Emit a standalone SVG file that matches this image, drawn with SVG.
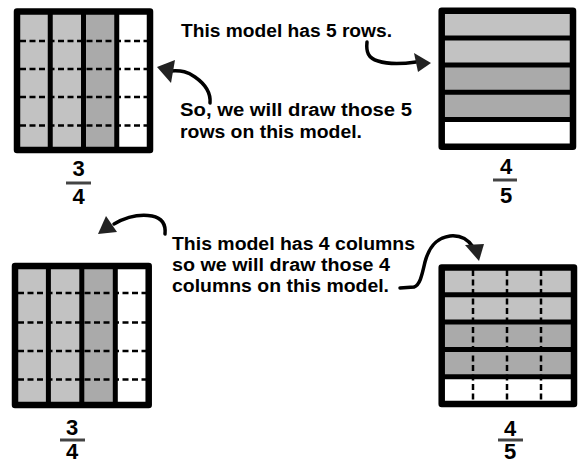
<svg xmlns="http://www.w3.org/2000/svg" width="579" height="463" viewBox="0 0 579 463">
<style>
.bg{fill:#ffffff}
.light{fill:#c2c2c2}
.dark{fill:#aaaaaa}
.white{fill:#ffffff}
.frame{fill:none;stroke:#000;stroke-width:6.5;stroke-linejoin:round}
.div{stroke:#000;stroke-width:5}
.dash{stroke:#000;stroke-width:2.5;stroke-dasharray:6 3.5}
.txt{font-family:"Liberation Sans",Arial,sans-serif;font-weight:bold;font-size:18px;fill:#000}
.num{font-family:"Liberation Sans",Arial,sans-serif;font-weight:bold;font-size:22px;fill:#000;text-anchor:middle}
.bar{stroke:#444;stroke-width:3}
.curve{fill:none;stroke:#000;stroke-width:3.5;stroke-linecap:round}
.head{fill:#222}
</style>
<rect class="bg" x="0" y="0" width="579" height="463"/>

<g id="model-top-left">
<rect class="light" x="17" y="11.5" width="66.5" height="138.5"/>
<rect class="dark" x="83.5" y="11.5" width="33.25" height="138.5"/>
<rect class="white" x="116.75" y="11.5" width="33.25" height="138.5"/>
<line class="dash" x1="20" y1="41" x2="147" y2="41"/>
<line class="dash" x1="20" y1="69" x2="147" y2="69"/>
<line class="dash" x1="20" y1="97" x2="147" y2="97"/>
<line class="dash" x1="20" y1="125.5" x2="147" y2="125.5"/>
<line class="div" x1="50.25" y1="11.5" x2="50.25" y2="150"/>
<line class="div" x1="83.5" y1="11.5" x2="83.5" y2="150"/>
<line class="div" x1="116.75" y1="11.5" x2="116.75" y2="150"/>
<rect class="frame" x="17" y="11.5" width="133" height="138.5"/>
<text class="num" x="78.5" y="176">3</text>
<line class="bar" x1="66" y1="183" x2="91" y2="183"/>
<text class="num" x="78.5" y="204">4</text>
</g>

<g id="model-top-right">
<rect class="light" x="441.7" y="10.7" width="131.3" height="54.4"/>
<rect class="dark" x="441.7" y="65.1" width="131.3" height="54.4"/>
<rect class="white" x="441.7" y="119.5" width="131.3" height="27.2"/>
<line class="div" x1="441.7" y1="37.9" x2="573" y2="37.9"/>
<line class="div" x1="441.7" y1="65.1" x2="573" y2="65.1"/>
<line class="div" x1="441.7" y1="92.3" x2="573" y2="92.3"/>
<line class="div" x1="441.7" y1="119.5" x2="573" y2="119.5"/>
<rect class="frame" x="441.7" y="10.7" width="131.3" height="136"/>
<text class="num" x="506" y="174">4</text>
<line class="bar" x1="493" y1="180" x2="517" y2="180"/>
<text class="num" x="506" y="203">5</text>
</g>

<g id="model-bottom-left">
<rect class="light" x="15" y="266" width="66.8" height="139"/>
<rect class="dark" x="81.8" y="266" width="33.5" height="139"/>
<rect class="white" x="115.3" y="266" width="33.4" height="139"/>
<line class="dash" x1="18" y1="293" x2="146" y2="293"/>
<line class="dash" x1="18" y1="322.5" x2="146" y2="322.5"/>
<line class="dash" x1="18" y1="351" x2="146" y2="351"/>
<line class="dash" x1="18" y1="379.5" x2="146" y2="379.5"/>
<line class="div" x1="48.4" y1="266" x2="48.4" y2="405"/>
<line class="div" x1="81.8" y1="266" x2="81.8" y2="405"/>
<line class="div" x1="115.3" y1="266" x2="115.3" y2="405"/>
<rect class="frame" x="15" y="266" width="133.7" height="139"/>
<text class="num" x="72" y="435">3</text>
<line class="bar" x1="60" y1="440" x2="85" y2="440"/>
<text class="num" x="72" y="459">4</text>
</g>

<g id="model-bottom-right">
<rect class="light" x="441.7" y="267.5" width="132.3" height="54.6"/>
<rect class="dark" x="441.7" y="322.1" width="132.3" height="54.6"/>
<rect class="white" x="441.7" y="376.7" width="132.3" height="27.3"/>
<line class="dash" x1="473" y1="270" x2="473" y2="401"/>
<line class="dash" x1="507" y1="270" x2="507" y2="401"/>
<line class="dash" x1="541" y1="270" x2="541" y2="401"/>
<line class="div" x1="441.7" y1="294.8" x2="574" y2="294.8"/>
<line class="div" x1="441.7" y1="322.1" x2="574" y2="322.1"/>
<line class="div" x1="441.7" y1="349.4" x2="574" y2="349.4"/>
<line class="div" x1="441.7" y1="376.7" x2="574" y2="376.7"/>
<rect class="frame" x="441.7" y="267.5" width="132.3" height="136.5"/>
<text class="num" x="510" y="436">4</text>
<line class="bar" x1="498" y1="440" x2="523" y2="440"/>
<text class="num" x="510" y="459">5</text>
</g>

<g id="labels">
<text class="txt" x="181" y="37" textLength="211" lengthAdjust="spacingAndGlyphs">This model has 5 rows.</text>
<text class="txt" x="180" y="115.5" textLength="232" lengthAdjust="spacingAndGlyphs">So, we will draw those 5</text>
<text class="txt" x="180" y="137.5" textLength="182" lengthAdjust="spacingAndGlyphs">rows on this model.</text>
<text class="txt" x="172" y="250" textLength="243" lengthAdjust="spacingAndGlyphs">This model has 4 columns</text>
<text class="txt" x="172" y="271" textLength="218" lengthAdjust="spacingAndGlyphs">so we will draw those 4</text>
<text class="txt" x="172" y="292" textLength="217" lengthAdjust="spacingAndGlyphs">columns on this model.</text>
</g>

<g id="connectors">
<path class="curve" d="M210,103 C211,92 205,84 195,77 C188,72 182,70 170,71"/>
<polygon class="head" points="157,67 175,60 171,83"/>
<path class="curve" d="M367,42 C366,52 368,58 378,61 C390,65 402,64 416,62"/>
<polygon class="head" points="431,63 414,53 418,72"/>
<path class="curve" d="M165,234 C166,224 162,218 152,216 C140,214 128,216 114,224"/>
<polygon class="head" points="98,234 106,216 117,232"/>
<path class="curve" d="M400,288 L414,287 C420,285 422,275 425,262 C429,247 436,238 450,236 C460,235 467,238 473,247"/>
<polygon class="head" points="479,261 465,245 484,244"/>
</g>
</svg>
